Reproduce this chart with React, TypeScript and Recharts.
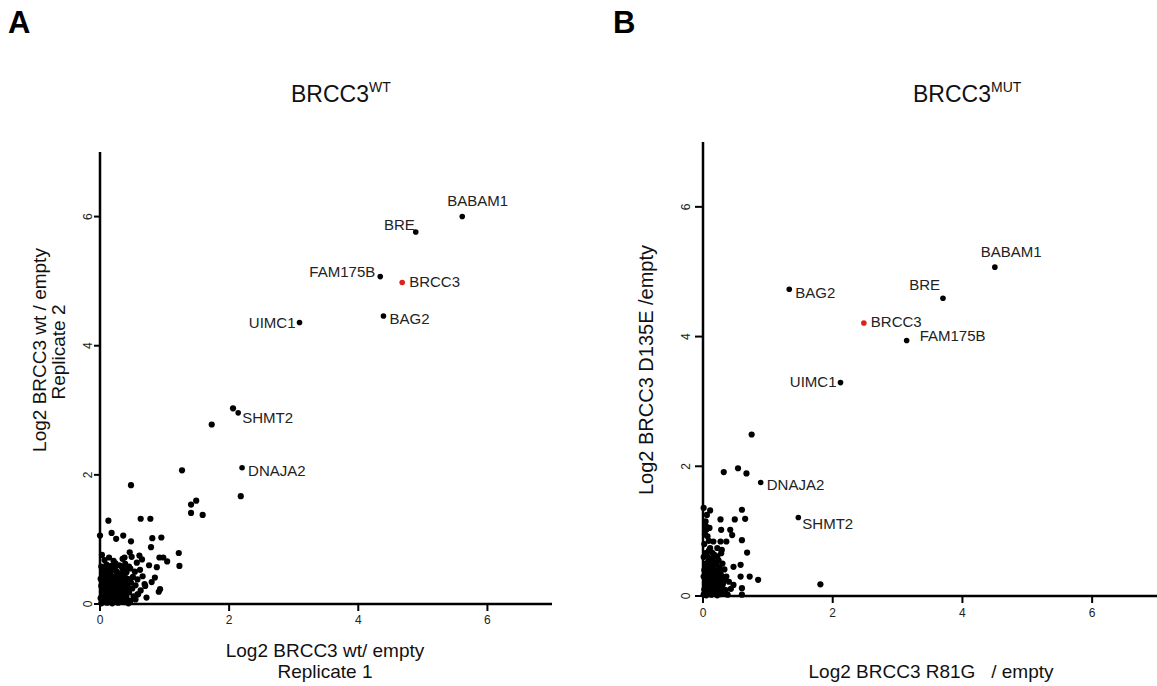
import React from 'react';
import { ScatterChart, Scatter, XAxis, YAxis } from 'recharts';

// ---- data (log2 ratios) ----

const axisTicks = [0, 2, 4, 6];

// panel A: wt replicate 1 (x) vs replicate 2 (y)
const wtGenes = ['BABAM1', 'BRE', 'FAM175B', 'BAG2', 'UIMC1', 'SHMT2', 'DNAJA2'];
const wtGeneX = [5.61, 4.89, 4.34, 4.39, 3.09, 2.14, 2.20];
const wtGeneY = [6.0, 5.76, 5.07, 4.46, 4.36, 2.96, 2.11];
const wtBait = { name: 'BRCC3', x: 4.68, y: 4.98 };

const wtBackground: [number, number][] = [
  [2.06, 3.03], [1.73, 2.78], [1.27, 2.07], [0.48, 1.84], [2.18, 1.67],
  [1.49, 1.60], [1.41, 1.54], [1.41, 1.41], [1.59, 1.38],
  [0.13, 1.29], [0.63, 1.32], [0.78, 1.32],
  [0.0, 1.06], [0.18, 1.10], [0.25, 1.01], [0.36, 1.06], [0.48, 0.97], [0.81, 1.02], [0.95, 1.03],
  [0.79, 0.88], [0.46, 0.80], [1.22, 0.79], [1.23, 0.59], [0.92, 0.72], [0.98, 0.72], [1.04, 0.66],
  [0.61, 0.75], [0.38, 0.72], [0.91, 0.19], [0.03, 0.76],
  [0.02, 0.01], [0.06, 0.03], [0.11, 0.02], [0.15, 0.05], [0.19, 0.01], [0.24, 0.04], [0.28, 0.02],
  [0.33, 0.06], [0.38, 0.03], [0.44, 0.01], [0.47, 0.05],
  [0.01, 0.09], [0.04, 0.12], [0.09, 0.10], [0.13, 0.14], [0.17, 0.08], [0.21, 0.11], [0.26, 0.13],
  [0.31, 0.09], [0.35, 0.12], [0.41, 0.10], [0.52, 0.12], [0.58, 0.15],
  [0.03, 0.19], [0.07, 0.22], [0.12, 0.18], [0.16, 0.24], [0.20, 0.20], [0.25, 0.17], [0.29, 0.23],
  [0.34, 0.19], [0.39, 0.22], [0.45, 0.18], [0.50, 0.24], [0.63, 0.21],
  [0.02, 0.28], [0.06, 0.31], [0.10, 0.27], [0.14, 0.33], [0.18, 0.29], [0.23, 0.32], [0.27, 0.28],
  [0.32, 0.34], [0.37, 0.30], [0.42, 0.27], [0.48, 0.33], [0.55, 0.29], [0.69, 0.31],
  [0.01, 0.39], [0.05, 0.42], [0.09, 0.37], [0.13, 0.41], [0.19, 0.38], [0.22, 0.43], [0.28, 0.40],
  [0.33, 0.37], [0.38, 0.44], [0.43, 0.39], [0.51, 0.42], [0.58, 0.38], [0.66, 0.43], [0.85, 0.41],
  [0.04, 0.49], [0.08, 0.52], [0.15, 0.48], [0.20, 0.53], [0.26, 0.50], [0.31, 0.47], [0.36, 0.52],
  [0.41, 0.49], [0.47, 0.55], [0.54, 0.50], [0.62, 0.53],
  [0.02, 0.58], [0.10, 0.61], [0.17, 0.59], [0.24, 0.63], [0.30, 0.60], [0.39, 0.62], [0.45, 0.58],
  [0.57, 0.64], [0.76, 0.60], [0.88, 0.57],
  [0.07, 0.68], [0.14, 0.72], [0.21, 0.67], [0.35, 0.70], [0.49, 0.73], [0.65, 0.69],
  [0.80, 0.34], [0.93, 0.23], [0.70, 0.28], [0.59, 0.15], [0.46, 0.03], [0.72, 0.10], [0.55, 0.07],
  [0.04, 0.06], [0.08, 0.16], [0.12, 0.07], [0.17, 0.16], [0.22, 0.06], [0.27, 0.18], [0.31, 0.15],
  [0.36, 0.07], [0.41, 0.16], [0.05, 0.25], [0.10, 0.21], [0.15, 0.29], [0.21, 0.26], [0.26, 0.35],
  [0.30, 0.27], [0.35, 0.25], [0.40, 0.33], [0.44, 0.23], [0.03, 0.35], [0.08, 0.45], [0.12, 0.34],
  [0.17, 0.44], [0.24, 0.37], [0.30, 0.44], [0.35, 0.41], [0.46, 0.36], [0.06, 0.55], [0.13, 0.54],
  [0.23, 0.56], [0.34, 0.57], [0.42, 0.55],
];

// panel B: R81G (x) vs D135E (y)
const mutGenes = ['BABAM1', 'BRE', 'BAG2', 'FAM175B', 'UIMC1', 'DNAJA2', 'SHMT2'];
const mutGeneX = [4.50, 3.70, 1.33, 3.14, 2.12, 0.89, 1.47];
const mutGeneY = [5.07, 4.59, 4.73, 3.94, 3.29, 1.75, 1.21];
const mutBait = { name: 'BRCC3', x: 2.48, y: 4.21 };

const mutBackground: [number, number][] = [
  [0.75, 2.49], [0.32, 1.91], [0.54, 1.97], [0.67, 1.89], [1.81, 0.18],
  [0.60, 1.33], [0.65, 1.19], [0.49, 1.18], [0.27, 1.18], [0.11, 1.32], [0.06, 1.25], [0.01, 1.36],
  [0.28, 1.02], [0.42, 1.02], [0.45, 0.94], [0.60, 0.86], [0.68, 0.67],
  [0.05, 1.07], [0.05, 1.02], [0.07, 0.92], [0.16, 0.84], [0.27, 0.84], [0.36, 0.84],
  [0.11, 0.74], [0.22, 0.74], [0.29, 0.71],
  [0.58, 0.48], [0.72, 0.30], [0.85, 0.25], [0.58, 0.30], [0.47, 0.17], [0.60, 0.12], [0.60, 0.02],
  [0.01, 0.02], [0.05, 0.01], [0.09, 0.04], [0.13, 0.02], [0.18, 0.05], [0.22, 0.01], [0.27, 0.03],
  [0.32, 0.06], [0.38, 0.02],
  [0.02, 0.10], [0.06, 0.13], [0.10, 0.09], [0.15, 0.12], [0.19, 0.08], [0.24, 0.14], [0.29, 0.10],
  [0.35, 0.09], [0.43, 0.11],
  [0.03, 0.20], [0.07, 0.23], [0.11, 0.18], [0.16, 0.22], [0.20, 0.19], [0.26, 0.24], [0.31, 0.20],
  [0.40, 0.22],
  [0.01, 0.30], [0.05, 0.33], [0.09, 0.28], [0.14, 0.31], [0.18, 0.34], [0.23, 0.29], [0.28, 0.32],
  [0.36, 0.30],
  [0.02, 0.40], [0.06, 0.43], [0.10, 0.38], [0.15, 0.42], [0.20, 0.39], [0.25, 0.44], [0.33, 0.41],
  [0.47, 0.45],
  [0.04, 0.50], [0.08, 0.53], [0.13, 0.49], [0.18, 0.52], [0.24, 0.55], [0.30, 0.50],
  [0.01, 0.60], [0.06, 0.62], [0.11, 0.58], [0.17, 0.64], [0.22, 0.61], [0.28, 0.66],
  [0.03, 0.06], [0.08, 0.15], [0.12, 0.06], [0.17, 0.16], [0.21, 0.12], [0.25, 0.07], [0.30, 0.16],
  [0.04, 0.26], [0.09, 0.24], [0.13, 0.26], [0.19, 0.27], [0.24, 0.20], [0.33, 0.26], [0.03, 0.36],
  [0.08, 0.36], [0.12, 0.44], [0.17, 0.38], [0.22, 0.35], [0.27, 0.38], [0.06, 0.47], [0.10, 0.55],
  [0.15, 0.57], [0.21, 0.48], [0.04, 0.66], [0.09, 0.70], [0.14, 0.67], [0.02, 0.80], [0.09, 0.85],
  [0.03, 0.95], [0.10, 1.05], [0.04, 1.15],
];

// where each gene label sits relative to its dot
const wtLabelPos: Record<string, [number, number, 'start' | 'end']> = {
  BABAM1: [-15, -11, 'start'],
  BRE: [-1, -2, 'end'],
  FAM175B: [-5, 0, 'end'],
  BRCC3: [7, 5, 'start'],
  BAG2: [6, 8, 'start'],
  UIMC1: [-4, 6, 'end'],
  SHMT2: [4, 10, 'start'],
  DNAJA2: [6, 8, 'start'],
};
const mutLabelPos: Record<string, [number, number, 'start' | 'end']> = {
  BABAM1: [-14, -10, 'start'],
  BRE: [-3, -8, 'end'],
  BAG2: [6, 9, 'start'],
  BRCC3: [7, 4, 'start'],
  FAM175B: [13, 1, 'start'],
  UIMC1: [-4, 4, 'end'],
  DNAJA2: [6, 7, 'start'],
  SHMT2: [4, 11, 'start'],
};

const FONT = '"Liberation Sans", Arial, sans-serif';

const toPoints = (pts: [number, number][]) => pts.map(([x, y]) => ({ x, y }));
const toGenes = (names: string[], xs: number[], ys: number[]) =>
  names.map((name, i) => ({ name, x: xs[i], y: ys[i] }));

const Dot = (props: any) => <circle cx={props.cx} cy={props.cy} r={3.1} fill="#000" />;

const labelledDot = (pos: Record<string, [number, number, 'start' | 'end']>, color: string) =>
  (props: any) => {
    const { cx, cy, payload } = props;
    const [dx, dy, anchor] = pos[payload.name] || [6, 5, 'start'];
    return (
      <g>
        <circle cx={cx} cy={cy} r={2.8} fill={color} />
        <text x={cx + dx} y={cy + dy} textAnchor={anchor} fontSize={15} fontFamily={FONT} fill="#222">
          {payload.name}
        </text>
      </g>
    );
  };

const xTick = (props: any) => (
  <text x={props.x} y={props.y} dy="0.71em" textAnchor="middle" fontSize={12} fontFamily={FONT} fill="#222">
    {props.payload.value}
  </text>
);

const yTick = (props: any) => (
  <text
    x={props.x}
    y={props.y}
    transform={`rotate(-90, ${props.x}, ${props.y})`}
    textAnchor="middle"
    fontSize={12}
    fontFamily={FONT}
    fill="#222"
  >
    {props.payload.value}
  </text>
);

const axisLine = { stroke: '#000', strokeWidth: 2.5 };
const tickLine = { stroke: '#000', strokeWidth: 2 };

function Panel(props: {
  width: number;
  margin: { top: number; right: number; left: number; bottom: number };
  yWidth: number;
  xHeight: number;
  tickLen: number;
  yTickMargin: number;
  xTickMargin: number;
  background: [number, number][];
  genes: { name: string; x: number; y: number }[];
  bait: { name: string; x: number; y: number };
  labelPos: Record<string, [number, number, 'start' | 'end']>;
}) {
  return (
    <ScatterChart width={props.width} height={686} margin={props.margin}>
      <XAxis
        type="number"
        dataKey="x"
        domain={[0, 7]}
        ticks={axisTicks}
        height={props.xHeight}
        axisLine={axisLine}
        tickLine={tickLine}
        tickSize={7}
        tickMargin={props.xTickMargin}
        tick={xTick}
        interval={0}
      />
      <YAxis
        type="number"
        dataKey="y"
        domain={[0, 7]}
        ticks={axisTicks}
        width={props.yWidth}
        axisLine={axisLine}
        tickLine={tickLine}
        tickSize={props.tickLen}
        tickMargin={props.yTickMargin}
        tick={yTick}
        interval={0}
      />
      <Scatter data={toPoints(props.background)} shape={Dot} isAnimationActive={false} />
      <Scatter data={props.genes} shape={labelledDot(props.labelPos, '#000')} isAnimationActive={false} />
      <Scatter data={[props.bait]} shape={labelledDot(props.labelPos, '#e0201b')} isAnimationActive={false} />
    </ScatterChart>
  );
}

export default function App() {
  return (
    <div style={{ position: 'absolute', left: 0, top: 0, width: 1157, height: 686, background: '#fff', fontFamily: FONT }}>
      <div style={{ position: 'absolute', left: 0, top: 0 }}>
        <Panel
          width={600}
          margin={{ top: 152, right: 48, left: 0, bottom: 0 }}
          yWidth={100}
          xHeight={82}
          tickLen={6}
          yTickMargin={2}
          xTickMargin={4}
          background={wtBackground}
          genes={toGenes(wtGenes, wtGeneX, wtGeneY)}
          bait={wtBait}
          labelPos={wtLabelPos}
        />
      </div>
      <div style={{ position: 'absolute', left: 600, top: 0 }}>
        <Panel
          width={557}
          margin={{ top: 142, right: 0, left: 0, bottom: 0 }}
          yWidth={103}
          xHeight={90}
          tickLen={8}
          yTickMargin={5}
          xTickMargin={5}
          background={mutBackground}
          genes={toGenes(mutGenes, mutGeneX, mutGeneY)}
          bait={mutBait}
          labelPos={mutLabelPos}
        />
      </div>
      <svg
        width={1157}
        height={686}
        style={{ position: 'absolute', left: 0, top: 0, pointerEvents: 'none' }}
        fontFamily={FONT}
        fill="#111"
      >
        <text x={8} y={33} fontSize={31} fontWeight="bold" fill="#000">A</text>
        <text x={613} y={33} fontSize={31} fontWeight="bold" fill="#000">B</text>

        <text x={291} y={102} fontSize={23}>
          BRCC3<tspan fontSize={14} dy={-10}>WT</tspan>
        </text>
        <text x={913} y={102} fontSize={23}>
          BRCC3<tspan fontSize={14} dy={-10}>MUT</tspan>
        </text>

        <text x={46} y={350} fontSize={19} textAnchor="middle" transform="rotate(-90, 46, 350)">
          Log2 BRCC3 wt / empty
        </text>
        <text x={65} y={352} fontSize={19} textAnchor="middle" transform="rotate(-90, 65, 352)">
          Replicate 2
        </text>
        <text x={325} y={657} fontSize={19} textAnchor="middle">Log2 BRCC3 wt/ empty</text>
        <text x={325} y={678} fontSize={19} textAnchor="middle">Replicate 1</text>

        <text x={653} y={370} fontSize={20} textAnchor="middle" transform="rotate(-90, 653, 370)">
          Log2 BRCC3 D135E /empty
        </text>
        <text x={931} y={678} fontSize={19} textAnchor="middle">
          {'Log2 BRCC3 R81G\u00a0\u00a0 / empty'}
        </text>
      </svg>
    </div>
  );
}
